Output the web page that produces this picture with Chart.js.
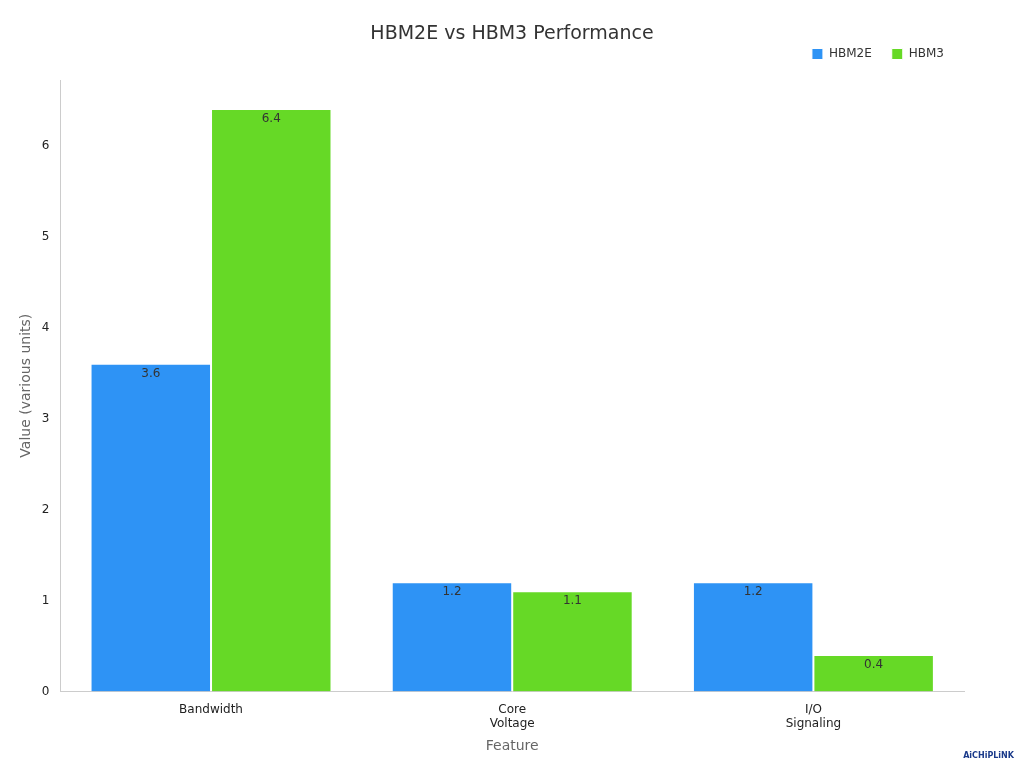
<!DOCTYPE html>
<html><head><meta charset="utf-8">
<script src="https://cdn.jsdelivr.net/npm/chart.js@4"></script>
<style>html,body{margin:0;padding:0;background:#fff}#w{width:1024px;height:768px;position:relative}</style>
</head><body><div id="w"><canvas id="c" width="1024" height="768"></canvas>
<div style="position:absolute;right:10px;bottom:8px;font:bold 8px 'DejaVu Sans';color:#1a3a8a">AiCHiPLiNK</div></div>
<script>
const categories = [["Bandwidth"], ["Core","Voltage"], ["I/O","Signaling"]];
const hbm2e = [3.6, 1.2, 1.2];
const hbm3 = [6.4, 1.1, 0.4];
const yTicks = [0,1,2,3,4,5,6];
const chartTitle = 'HBM2E vs HBM3 Performance';
const labelPlugin = {id:'lbl', afterDatasetsDraw(ch){const ctx=ch.ctx;ctx.save();ctx.font="12px 'DejaVu Sans'";ctx.fillStyle='#333';ctx.textAlign='center';ctx.textBaseline='top';
ch.data.datasets.forEach((d,i)=>{ch.getDatasetMeta(i).data.forEach((b,j)=>{ctx.fillText(d.data[j].toFixed(1),b.x,b.y+4);});});ctx.restore();}};
const titlePlugin = {id:'ttl', afterDraw(ch){const ctx=ch.ctx;ctx.save();ctx.font="19px 'DejaVu Sans'";ctx.fillStyle='#333';ctx.textAlign='center';ctx.textBaseline='middle';ctx.fillText(chartTitle,ch.width/2,34);ctx.restore();}};
const legendPad = {id:'lgpad', beforeInit(c){const f=c.legend.fit;c.legend.fit=function(){f.call(this);this.height+=10;};}};
new Chart(document.getElementById('c'),{type:'bar',
data:{labels:categories,datasets:[
{label:'HBM2E',data:hbm2e,backgroundColor:'#2e93f5',borderColor:'#fff',borderWidth:1},
{label:'HBM3',data:hbm3,backgroundColor:'#66d926',borderColor:'#fff',borderWidth:1}]},
options:{responsive:false,animation:false,devicePixelRatio:1,
layout:{padding:{left:14,right:60,top:28,bottom:9}},
datasets:{bar:{categoryPercentage:0.8,barPercentage:1}},
plugins:{title:{display:false},
legend:{align:'end',labels:{boxWidth:11,boxHeight:11,color:'#333',font:{family:'DejaVu Sans',size:12},padding:20}},tooltip:{enabled:false}},
scales:{x:{grid:{display:false},border:{color:'#ccc'},ticks:{color:'#222',font:{family:'DejaVu Sans',size:12}},title:{display:true,text:'Feature',color:'#666',font:{family:'DejaVu Sans',size:14}}},
y:{min:0,max:6.72,afterBuildTicks(a){a.ticks=yTicks.map(v=>({value:v}));},grid:{display:false},border:{color:'#ccc'},ticks:{color:'#222',font:{family:'DejaVu Sans',size:12}},title:{display:true,text:'Value (various units)',color:'#666',font:{family:'DejaVu Sans',size:14}}}}},
plugins:[labelPlugin,titlePlugin,legendPad]});
</script></body></html>
